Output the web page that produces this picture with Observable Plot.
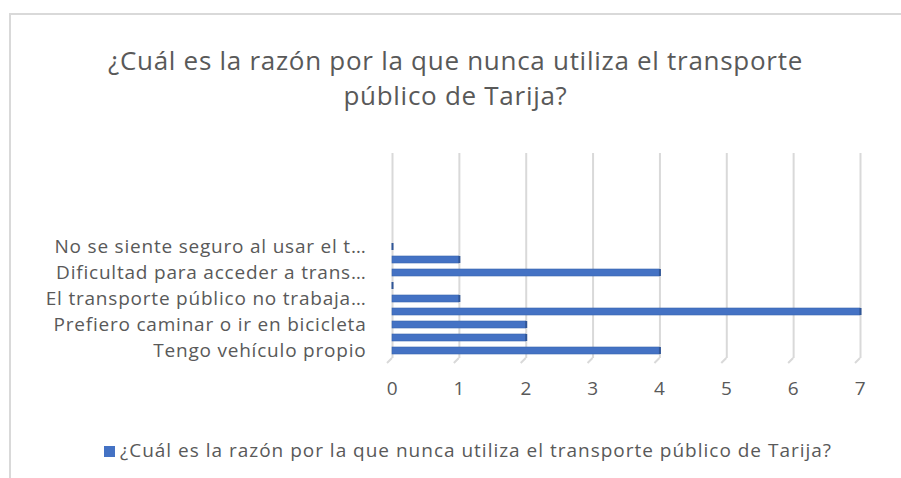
<!DOCTYPE html>
<html>
<head>
<meta charset="utf-8">
<script src="https://cdn.jsdelivr.net/npm/d3@7"></script>
<script src="https://cdn.jsdelivr.net/npm/@observablehq/plot@0.6"></script>
<style>
  html, body { margin: 0; padding: 0; background: #fff; }
  #wrap { position: relative; width: 901px; height: 478px; overflow: hidden; font-family: "Open Sans", sans-serif; color: #595959; }
  #frame { position: absolute; left: 9px; top: 13px; right: -5px; bottom: -5px; border-left: 2px solid #d9d9d9; border-top: 2px solid #d9d9d9; }
  #title { position: absolute; left: 10px; right: 0; top: 43px; text-align: center; line-height: 35px; white-space: nowrap; }
  #chart { position: absolute; left: 0; top: 140px; }
  #legend { position: absolute; left: 104px; top: 437px; line-height: 26px; white-space: nowrap; }
  #legend .key { display: inline-block; width: 11px; height: 11px; background: #4472C4; margin-right: 5px; vertical-align: 0px; }
</style>
</head>
<body>
<div id="wrap">
  <div id="frame"></div>
  <div id="title"></div>
  <div id="chart"></div>
  <div id="legend"></div>
</div>
<script>
const titleLines = ["¿Cuál es la razón por la que nunca utiliza el transporte", "público de Tarija?"];
const seriesName = "¿Cuál es la razón por la que nunca utiliza el transporte público de Tarija?";

// categories, top to bottom (only every other one is labelled in the original)
const categories = [
  "No se siente seguro al usar el t…",
  "(sin etiqueta 4)",
  "Dificultad para acceder a trans…",
  "(sin etiqueta 3)",
  "El transporte público no trabaja…",
  "(sin etiqueta 2)",
  "Prefiero caminar o ir en bicicleta",
  "(sin etiqueta 1)",
  "Tengo vehículo propio"
];
const values = [0, 1, 4, 0, 1, 7, 2, 2, 4];
const labeledCategories = [
  "No se siente seguro al usar el t…",
  "Dificultad para acceder a trans…",
  "El transporte público no trabaja…",
  "Prefiero caminar o ir en bicicleta",
  "Tengo vehículo propio"
];
const xTicks = [0, 1, 2, 3, 4, 5, 6, 7];

const data = categories.map((c, i) => ({category: c, value: values[i]}));

const fontFamily = '"Open Sans", sans-serif';
const labelSize = 19;
const titleSize = 26;

// letter-spacing that makes a text match the original (Calibri) width
const ctx = document.createElement("canvas").getContext("2d");
function spacingFor(text, size, targetWidth) {
  ctx.font = `${size}px ${fontFamily}`;
  const w = ctx.measureText(text).width;
  return Math.max(-0.5, Math.min(1.2, (targetWidth - w) / text.length));
}
const labelSpacing = spacingFor("Prefiero caminar o ir en bicicleta", labelSize, 313);
const titleSpacing = spacingFor(titleLines[0], titleSize, 695);
const legendSpacing = spacingFor(seriesName, labelSize, 712);

// small slanted "floor" ticks at the foot of each gridline (3-D look)
function floorTicks(index, scales, vals, dimensions) {
  const g = d3.create("svg:g");
  const yb = dimensions.height - dimensions.marginBottom;
  for (const t of xTicks) {
    const px = scales.x(t);
    g.append("line")
      .attr("x1", px).attr("y1", yb)
      .attr("x2", px - 5).attr("y2", yb + 5)
      .attr("stroke", "#d9d9d9").attr("stroke-width", 2);
  }
  return g.node();
}

const chart = Plot.plot({
  width: 901,
  height: 270,
  marginTop: 13,
  marginBottom: 52,
  marginLeft: 392,
  marginRight: 41,
  style: {fontFamily, fontSize: `${labelSize}px`, letterSpacing: `${labelSpacing}px`, color: "#595959", background: "transparent", overflow: "visible"},
  x: {domain: [0, 7], ticks: xTicks},
  y: {domain: categories, range: [97, 219], paddingInner: 0.5, paddingOuter: 0.25},
  marks: [
    Plot.ruleX(xTicks, {stroke: "#d9d9d9", strokeWidth: 2}),
    floorTicks,
    Plot.barX(data, {x: "value", y: "category", fill: "#4472C4", stroke: "#3b64ad", strokeWidth: 0.6}),
    Plot.tickX(data, {x: "value", y: "category", stroke: "#2f5597", strokeWidth: 2}),
    Plot.axisX({ticks: xTicks, tickFormat: d3.format("d"), tickSize: 0, tickPadding: 23, label: null, fill: "#595959", fontSize: labelSize}),
    Plot.axisY({ticks: labeledCategories, tickSize: 0, tickPadding: 26, label: null, fill: "#595959", fontSize: labelSize})
  ]
});
document.getElementById("chart").appendChild(chart);

const titleEl = document.getElementById("title");
titleEl.style.fontSize = `${titleSize}px`;
titleEl.style.letterSpacing = `${titleSpacing}px`;
titleEl.innerHTML = titleLines.map(l => `<div>${l}</div>`).join("");
const legendEl = document.getElementById("legend");
legendEl.style.fontSize = `${labelSize}px`;
legendEl.innerHTML = `<span class="key"></span><span style="letter-spacing:${legendSpacing}px">${seriesName}</span>`;
</script>
</body>
</html>
